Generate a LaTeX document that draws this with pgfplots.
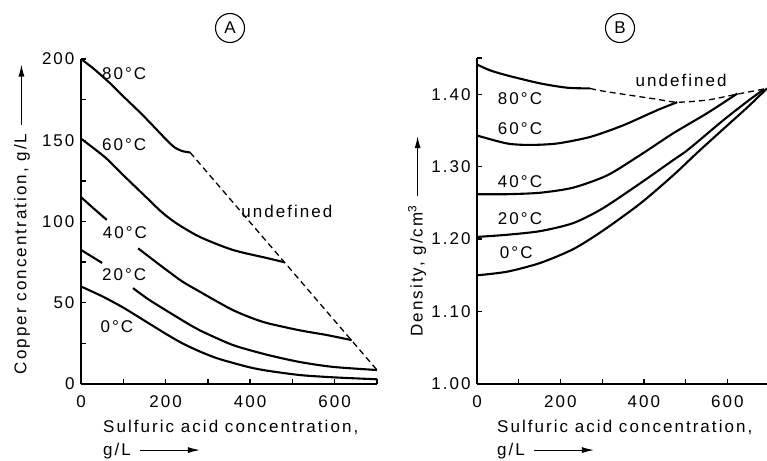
\documentclass[border=0pt]{standalone}
\usepackage{fontspec}
\setmainfont{Liberation Sans}[LetterSpace=12]
\usepackage{pgfplots}
\pgfplotsset{compat=1.18}
\usetikzlibrary{arrows.meta}
\newcommand{\garr}{\tikz[baseline=-0.55ex]\draw[line width=1.1pt,-{Latex[length=12pt,width=6pt]}] (0pt,0pt)--(60pt,0pt);}

\pgfplotstableread{
x y
0 200
30 194
69 185
100 177
140 167
170 159
203 150
222 145.5
240 143.3
258 142.5
}\aEighty
\pgfplotstableread{
x y
0 151
57 139.5
100 128.5
150 116
190 106
225 99
281 90.5
359 82.5
440 77.5
480 75
}\aSixty
\pgfplotstableread{
x y
0 115
30 108
61 101
}\aFortyA
\pgfplotstableread{
x y
135 83.5
170 76.5
203 70
240 63
281 56.8
320 51
359 45.5
400 41
440 37.5
518 33
580 30.2
640 27
}\aFortyB
\pgfplotstableread{
x y
0 82.5
50 74.5
}\aTwentyA
\pgfplotstableread{
x y
123 59
160 52
203 45
258 36.3
281 33
359 24
440 18
518 13.5
597 10.5
700 8.6
}\aTwentyB
\pgfplotstableread{
x y
0 60
50 54
100 47
150 39
203 30.5
240 25
281 20
320 16
359 13
400 10.2
440 8.2
518 5.5
597 4.1
700 2.9
}\aZero
\pgfplotstableread{
x y
258 142.5
700 8.6
}\aDash

\pgfplotstableread{
x y
0 1.441
31 1.433
72 1.426
151 1.415
216 1.409
271 1.408
}\bEighty
\pgfplotstableread{
x y
271 1.408
295 1.405
350 1.400
432 1.393
480 1.389
552 1.392
614 1.399
695 1.408
}\bDash
\pgfplotstableread{
x y
0 1.343
72 1.332
127 1.330
192 1.332
271 1.341
350 1.357
432 1.378
480 1.389
}\bSixty
\pgfplotstableread{
x y
0 1.262
72 1.262
151 1.264
230 1.271
312 1.288
391 1.316
470 1.346
552 1.374
624 1.401
}\bForty
\pgfplotstableread{
x y
0 1.203
72 1.206
151 1.211
230 1.222
300 1.242
391 1.277
470 1.309
507 1.324
590 1.364
650 1.391
688 1.407
}\bTwenty
\pgfplotstableread{
x y
0 1.150
72 1.155
151 1.167
230 1.186
300 1.211
391 1.249
470 1.288
531 1.321
600 1.357
650 1.383
695 1.408
}\bZero

\begin{document}
\begin{tikzpicture}[font=\fontsize{17}{20}\selectfont]
\path[use as bounding box] (0pt,0pt) rectangle (767pt,-460pt);
\pgfplotsset{
 base/.style={scale only axis, axis x line=bottom, axis y line=left,
   axis line style={-,line width=1.8pt}, tick align=inside,
   major tick length=5pt, minor tick length=5pt,
   every tick/.style={line width=1.3pt,black},
   clip=false, ticklabel style={font=\fontsize{17}{20}\selectfont},
   xticklabel style={yshift=-8pt}, yticklabel style={xshift=-3pt},
   anchor=south west},
 cur/.style={line width=2.1pt, black, no markers, smooth, tension=0.45},
 dsh/.style={line width=1.3pt, black, dash pattern=on 6pt off 4pt, no markers, smooth}
}
\begin{axis}[base, at={(81pt,-384pt)}, width=296pt, height=325pt,
  xmin=0, xmax=700, ymin=0, ymax=200,
  xtick={0,200,400,600}, xticklabels={0,200,400,600},
  minor xtick={100,300,500,700},
  ytick={0,50,100,150,200}, yticklabels={0,50,100,150,200},
  minor ytick={25,75,125,175}]
\addplot[cur] table {\aEighty};
\addplot[cur] table {\aSixty};
\addplot[cur] table {\aFortyA};
\addplot[cur] table {\aFortyB};
\addplot[cur] table {\aTwentyA};
\addplot[cur] table {\aTwentyB};
\addplot[cur] table {\aZero};
\addplot[dsh] table {\aDash};
\node at (axis cs:102,191) {80°C};
\node at (axis cs:102,147) {60°C};
\node at (axis cs:104,93) {40°C};
\node at (axis cs:102,67) {20°C};
\node at (axis cs:85,35) {0°C};
\node at (axis cs:487,106) {undefined};
\end{axis}
\begin{axis}[base, at={(477pt,-384pt)}, width=290pt, height=326pt,
  xmin=0, xmax=695, ymin=1.0, ymax=1.45,
  xtick={0,200,400,600}, xticklabels={0,200,400,600},
  minor xtick={100,300,500},
  ytick={1.0,1.1,1.2,1.3,1.4}, yticklabels={1.00,1.10,1.20,1.30,1.40},
  minor ytick={1.45}]
\addplot[cur] table {\bEighty};
\addplot[cur] table {\bSixty};
\addplot[cur] table {\bForty};
\addplot[cur] table {\bTwenty};
\addplot[cur] table {\bZero};
\addplot[dsh] table {\bDash};
\node at (axis cs:103,1.394) {80°C};
\node at (axis cs:103,1.353) {60°C};
\node at (axis cs:103,1.279) {40°C};
\node at (axis cs:103,1.228) {20°C};
\node at (axis cs:94,1.181) {0°C};
\node at (axis cs:489,1.419) {undefined};
\end{axis}
\node[draw, circle, line width=1.1pt, minimum size=29pt, inner sep=0pt] at (230pt,-28pt) {A};
\node[draw, circle, line width=1.1pt, minimum size=29pt, inner sep=0pt] at (620pt,-28pt) {B};
\node[rotate=90] at (22pt,-219pt) {Copper concentration, g/L\enspace\garr};
\node[rotate=90] at (417pt,-236pt) {Density, g/cm\textsuperscript{3}\enspace\garr};
\node[anchor=base west, inner sep=0pt] at (103pt,-432pt) {Sulfuric acid concentration,};
\node[anchor=base west, inner sep=0pt] at (103pt,-455pt) {g/L\enspace\garr};
\node[anchor=base west, inner sep=0pt] at (497pt,-432pt) {Sulfuric acid concentration,};
\node[anchor=base west, inner sep=0pt] at (497pt,-455pt) {g/L\enspace\garr};
\end{tikzpicture}
\end{document}
